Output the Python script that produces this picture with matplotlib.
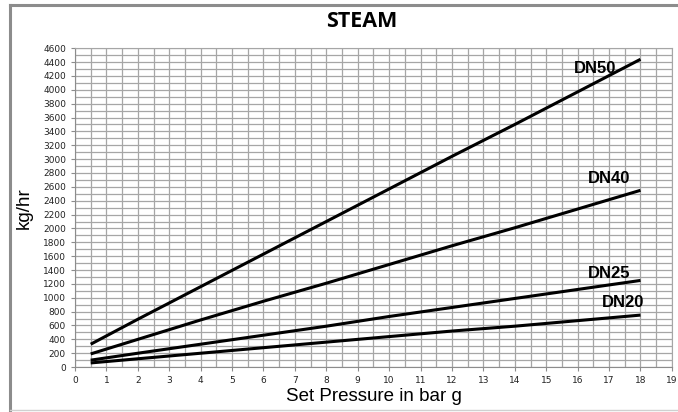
import matplotlib.pyplot as plt
from matplotlib.lines import Line2D
from matplotlib.ticker import MultipleLocator

# set pressure in bar g
pressure = [0.5, 2, 4, 6, 8, 10, 12, 14, 16, 18]
# kg/hr
dn50 = [330, 690, 1160, 1630, 2100, 2570, 3040, 3500, 3970, 4440]
dn40 = [190, 400, 680, 950, 1210, 1480, 1750, 2010, 2280, 2550]
dn25 = [100, 200, 330, 460, 590, 730, 860, 990, 1120, 1250]
dn20 = [60, 120, 200, 280, 360, 440, 520, 590, 670, 750]

series = [dn50, dn40, dn25, dn20]
names = ["DN50", "DN40", "DN25", "DN20"]
label_pos = [(16.55, 4310), (17.0, 2725), (17.0, 1345), (17.44, 937)]

fig = plt.figure(figsize=(6.78, 4.12), dpi=100)
ax = fig.add_axes([0.1106, 0.109, 0.8804, 0.774])

for ys in series:
    ax.plot(pressure, ys, color="black", lw=2.2, solid_capstyle="butt", zorder=3)

for name, (tx, ty) in zip(names, label_pos):
    ax.text(tx, ty, name, fontsize=12, fontweight="bold", family="Liberation Sans",
            ha="center", va="center", zorder=4)

ax.set_xlim(0, 19)
ax.set_ylim(0, 4600)
ax.xaxis.set_major_locator(MultipleLocator(1))
ax.xaxis.set_minor_locator(MultipleLocator(0.5))
ax.yaxis.set_major_locator(MultipleLocator(200))
ax.yaxis.set_minor_locator(MultipleLocator(100))
ax.grid(which="both", color="#a6a6a6", lw=0.9, zorder=0)
ax.set_axisbelow(True)
ax.tick_params(which="major", labelsize=6.5, length=3, color="#8c8c8c", labelcolor="#222222")
ax.tick_params(which="minor", length=0)
for s in ax.spines.values():
    s.set_color("#a6a6a6")
ax.spines["left"].set_color("#8c8c8c")
ax.spines["bottom"].set_color("#8c8c8c")

ax.set_xlabel("Set Pressure in bar g", fontsize=13.5, family="Liberation Sans", labelpad=2)
ax.set_ylabel("kg/hr", fontsize=13.5, family="Liberation Sans", labelpad=7)
fig.text(0.533, 0.947, "STEAM", fontsize=15.5, fontweight="bold", family="Open Sans",
         ha="center", va="center")

# outer chart border
fig.add_artist(Line2D([10 / 678, 10 / 678], [2 / 412, 407 / 412], color="#8c8c8c", lw=2.2))
fig.add_artist(Line2D([10 / 678, 1.0], [407 / 412, 407 / 412], color="#8c8c8c", lw=2.2))
fig.add_artist(Line2D([10 / 678, 1.0], [2 / 412, 2 / 412], color="#d0d0d0", lw=1))

fig.savefig("out.png", dpi=100)
